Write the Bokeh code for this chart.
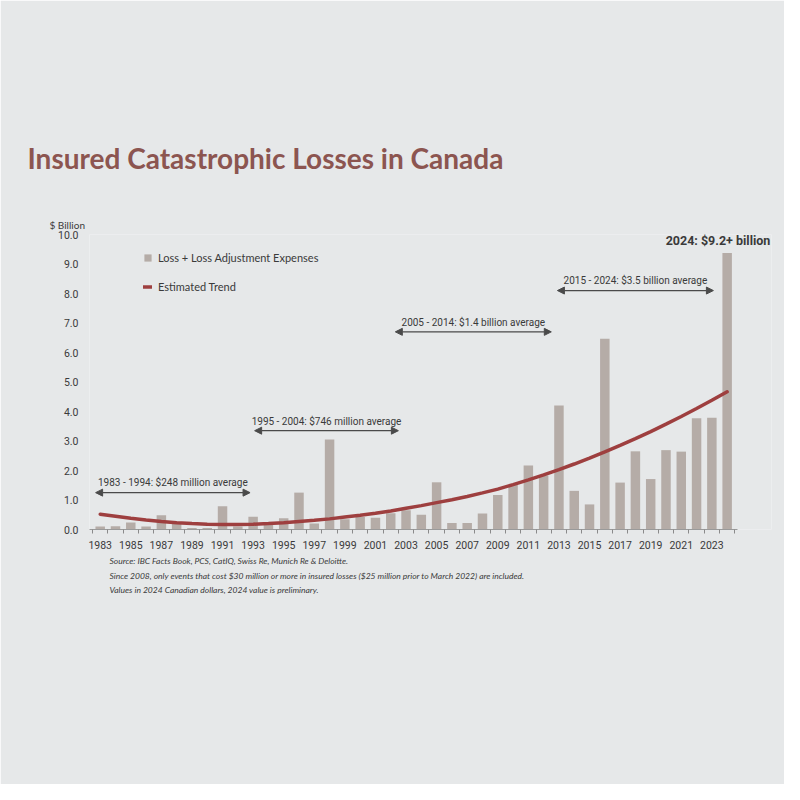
from bokeh.plotting import figure
from bokeh.models import (Range1d, FixedTicker, NumeralTickFormatter, Label, Arrow,
                          NormalHead, Legend, LegendItem, ColumnDataSource, Title)
from bokeh.embed import file_html
from bokeh.resources import INLINE

# ---------------- data ----------------
years = list(range(1983, 2025))
losses = [0.10, 0.11, 0.24, 0.10, 0.48, 0.22, 0.05, 0.05, 0.79, 0.10,
          0.43, 0.17, 0.38, 1.25, 0.20, 3.05, 0.35, 0.42, 0.40, 0.55,
          0.65, 0.50, 1.60, 0.22, 0.22, 0.54, 1.17, 1.52, 2.17, 1.83,
          4.20, 1.31, 0.85, 6.47, 1.59, 2.65, 1.71, 2.69, 2.64, 3.77,
          3.79, 9.37]
trend = [0.52, 0.45, 0.38, 0.32, 0.27, 0.23, 0.20, 0.18, 0.17, 0.17,
         0.18, 0.20, 0.23, 0.27, 0.31, 0.36, 0.42, 0.48, 0.55, 0.63,
         0.72, 0.81, 0.91, 1.01, 1.12, 1.24, 1.37, 1.52, 1.68, 1.85,
         2.03, 2.22, 2.42, 2.63, 2.85, 3.08, 3.32, 3.57, 3.83, 4.10,
         4.38, 4.67]
x_tick_years = list(range(1983, 2024, 2))
y_ticks = list(range(0, 11))

title_text = "Insured Catastrophic Losses in Canada"
unit_text = "$ Billion"
period_labels = ["1983 - 1994: $248 million average",
                 "1995 - 2004: $746 million average",
                 "2005 - 2014: $1.4 billion average",
                 "2015 - 2024: $3.5 billion average"]
peak_label = "2024: $9.2+ billion"
footnotes = ["Source: IBC Facts Book, PCS, CatIQ, Swiss Re, Munich Re & Deloitte.",
             "Since 2008, only events that cost $30 million or more in insured losses ($25 million prior to March 2022) are included.",
             "Values in 2024 Canadian dollars, 2024 value is preliminary."]

# ---------------- styling ----------------
SLIDE = "#e6e8e9"
BAR = "#b5aca7"
RED = "#9e3f3f"
TITLE = "#8c5550"
DARK = "#3a3a3a"
NARROW = "Roboto"
HUMAN = "Lato"

X0, X1 = 1982.3, 2026.9   # frame extends right so the 2024 label fits

p = figure(width=784, height=784, output_backend="svg", toolbar_location=None,
           title=None,
           x_range=Range1d(X0, X1), y_range=Range1d(0, 10),
           min_border_left=89, min_border_right=13, min_border_top=234,
           min_border_bottom=255, background_fill_color=SLIDE,
           border_fill_color=SLIDE, outline_line_color=None)

src = ColumnDataSource(dict(year=years, loss=losses, trend=trend))
bars = p.vbar(x="year", top="loss", width=0.62, source=src,
              fill_color=BAR, line_color=None)
trend_line = p.line(x="year", y="trend", source=src, line_width=3.5,
                    line_color=RED, line_cap="round")

# axes
p.xgrid.visible = False
p.ygrid.visible = False
xa = p.xaxis[0]
xa.bounds = (X0, 2024.7)
xa.ticker = FixedTicker(ticks=x_tick_years,
                        minor_ticks=[y + 0.5 for y in range(1982, 2025)])
xa.axis_line_color = "#9a9a9a"
xa.major_tick_line_color = None
xa.minor_tick_line_color = "#8a8a8a"
xa.minor_tick_in = 0
xa.minor_tick_out = 4
xa.major_label_standoff = 5
xa.major_label_text_font = NARROW
xa.major_label_text_font_size = "10.5px"
xa.major_label_text_color = DARK

ya = p.yaxis[0]
ya.ticker = FixedTicker(ticks=y_ticks)
ya.formatter = NumeralTickFormatter(format="0.0")
ya.axis_line_color = None
ya.major_tick_line_color = None
ya.minor_tick_line_color = None
ya.major_label_standoff = 5
ya.major_label_text_font = NARROW
ya.major_label_text_font_size = "10.5px"
ya.major_label_text_color = DARK

# legend
legend = Legend(items=[LegendItem(label="Loss + Loss Adjustment Expenses", renderers=[bars]),
                       LegendItem(label="Estimated Trend", renderers=[trend_line])],
                location=(54, 236), background_fill_alpha=0, border_line_color=None,
                label_text_font=HUMAN, label_text_font_size="11px",
                label_text_color=DARK, glyph_width=9, glyph_height=9,
                label_height=14, spacing=15, padding=0, margin=0,
                label_standoff=6)
p.add_layout(legend)

# period arrows and labels
arrows = [(1982.7, 1992.8, 1.25), (1993.1, 2002.5, 3.35),
          (2002.3, 2012.5, 6.70), (2012.9, 2023.1, 8.10)]
for (xs, xe, yy), txt in zip(arrows, period_labels):
    p.add_layout(Arrow(x_start=xs, y_start=yy, x_end=xe, y_end=yy,
                       line_color="#4a4a4a", line_width=1.2,
                       start=NormalHead(size=7, fill_color="#4a4a4a", line_color="#4a4a4a"),
                       end=NormalHead(size=7, fill_color="#4a4a4a", line_color="#4a4a4a")))
    p.add_layout(Label(x=(xs + xe) / 2, y=yy + 0.14, text=txt,
                       text_align="center", text_baseline="bottom",
                       text_font=NARROW, text_font_size="10px",
                       text_color=DARK))

p.add_layout(Label(x=2023.4, y=9.55, text=peak_label, text_align="center",
                   text_baseline="bottom", text_font=NARROW,
                   text_font_size="12.5px", text_font_style="bold",
                   text_color=DARK))

# unit label and title (above panel, nearest first)
p.add_layout(Title(text=unit_text, align="left", offset=-40, standoff=8,
                   text_font=HUMAN, text_font_size="10px",
                   text_font_style="normal", text_color=DARK), "above")
p.add_layout(Title(text=title_text, align="left", offset=-62, standoff=76,
                   text_font=HUMAN, text_font_size="28px",
                   text_font_style="bold", text_color=TITLE), "above")

# footnotes (below panel, after the x axis)
for i, note in enumerate(footnotes):
    p.add_layout(Title(text=note, align="left", offset=20,
                       standoff=4 if i == 0 else 2,
                       text_font=HUMAN, text_font_size="8.5px",
                       text_font_style="italic", text_color=DARK), "below")

open("out.html", "w").write(file_html(p, INLINE))
